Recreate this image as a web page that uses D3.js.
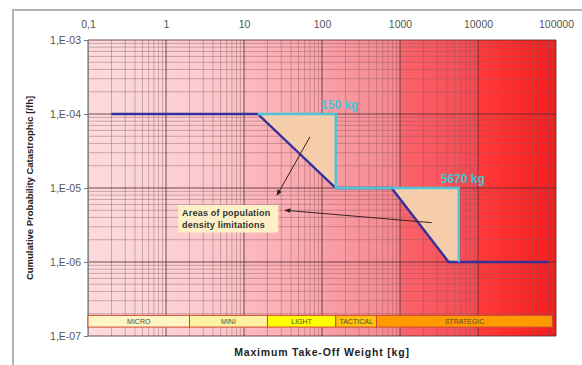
<!DOCTYPE html>
<html>
<head>
<meta charset="utf-8">
<script src="https://cdn.jsdelivr.net/npm/d3@7"></script>
<style>
  body { margin: 0; background: #fff; }
  svg { font-family: "Liberation Sans", Arial, sans-serif; }
</style>
</head>
<body>
<div id="chart"></div>
<script>
// datos
const xTicks = [0.1, 1, 10, 100, 1000, 10000, 100000]
const xTickLabels = ["0,1", "1", "10", "100", "1000", "10000", "100000"]
const yTicks = [1e-3, 1e-4, 1e-5, 1e-6, 1e-7]
const yTickLabels = ["1,E-03", "1,E-04", "1,E-05", "1,E-06", "1,E-07"]

// linea azul (limite)
const azulX = [0.2, 15, 150, 780, 4200, 80000]
const azulY = [1e-4, 1e-4, 1e-5, 1e-5, 1e-6, 1e-6]
// linea cian (escalones)
const cianX = [15, 150, 150, 5670, 5670]
const cianY = [1e-4, 1e-4, 1e-5, 1e-5, 1e-6]
// areas de limitacion
const area1X = [15, 150, 150]
const area1Y = [1e-4, 1e-4, 1e-5]
const area2X = [780, 5670, 5670, 4200]
const area2Y = [1e-5, 1e-5, 1e-6, 1e-6]

// categorias
const categorias = ["MICRO", "MINI", "LIGHT", "TACTICAL", "STRATEGIC"]
const limitesCat = [0.1, 2, 20, 150, 500, 90000]
const coloresCat = ["#fdf6c4", "#fcf2a2", "#ffff00", "#ffc20e", "#ff9a00"]
const bandaCat = [1.9e-7, 1.32e-7]

// etiquetas
const etiquetasKg = [{ x: 150, y: 1e-4, t: "150 kg" }, { x: 5670, y: 1e-5, t: "5670 kg" }]
const flechas = [
  { x1: 70, y1: 4.9e-5, x2: 26.5, y2: 8.0e-6 },
  { x1: 2550, y1: 3.4e-6, x2: 33.6, y2: 5.0e-6 }
]
const cajaX = [1.43, 27.5]
const cajaY = [5.9e-6, 2.5e-6]
const cajaTexto = ["Areas of population", "density limitations"]

// colores de fondo por decada [inicio, fin]
const fondoDecadas = [
  ["#fddadd", "#fcd2d6"],
  ["#fcd0d4", "#fbc2c7"],
  ["#fbbabf", "#faa4ab"],
  ["#f9a0a7", "#f7848d"],
  ["#f9656d", "#fb4650"],
  ["#ff3b3b", "#ff1818"]
]

const ancho = 582, alto = 365
const margen = { top: 40, right: 26, bottom: 29, left: 88 }

const svg = d3.select("#chart").append("svg")
  .attr("width", ancho)
  .attr("height", alto)

const x = d3.scaleLog().domain([0.1, 100000]).range([margen.left, ancho - margen.right])
const y = d3.scaleLog().domain([1e-7, 1e-3]).range([alto - margen.bottom, margen.top])

// marco gris
svg.append("path")
  .attr("d", `M13,${alto} L13,10 L${ancho},10`)
  .attr("fill", "none")
  .attr("stroke", "#b4b4b4")
  .attr("stroke-width", 2)

// fondo con degradado por decada
const defs = svg.append("defs")
fondoDecadas.forEach((c, i) => {
  const g = defs.append("linearGradient").attr("id", "dec" + i)
  g.append("stop").attr("offset", "0%").attr("stop-color", c[0])
  g.append("stop").attr("offset", "100%").attr("stop-color", c[1])
})
svg.selectAll("rect.fondo")
  .data(fondoDecadas)
  .enter().append("rect")
  .attr("class", "fondo")
  .attr("x", (d, i) => x(xTicks[i]))
  .attr("width", (d, i) => x(xTicks[i + 1]) - x(xTicks[i]))
  .attr("y", y(1e-3))
  .attr("height", y(1e-7) - y(1e-3))
  .attr("fill", (d, i) => "url(#dec" + i + ")")

// rejilla menor
const menoresX = []
for (let i = 0; i < 6; i++) for (let k = 2; k <= 9; k++) menoresX.push(xTicks[i] * k)
const menoresY = []
for (let i = 1; i < 5; i++) for (let k = 2; k <= 9; k++) menoresY.push(yTicks[i] * k)

const rejilla = svg.append("g")
rejilla.selectAll("line.mx").data(menoresX).enter().append("line")
  .attr("x1", d => x(d)).attr("x2", d => x(d))
  .attr("y1", y(1e-3)).attr("y2", y(1e-7))
  .attr("stroke", "#8a5a5e").attr("stroke-opacity", 0.42).attr("stroke-width", 1)
rejilla.selectAll("line.my").data(menoresY).enter().append("line")
  .attr("y1", d => y(d)).attr("y2", d => y(d))
  .attr("x1", x(0.1)).attr("x2", x(100000))
  .attr("stroke", "#8a5a5e").attr("stroke-opacity", 0.42).attr("stroke-width", 1)
rejilla.selectAll("line.Mx").data(xTicks).enter().append("line")
  .attr("x1", d => x(d)).attr("x2", d => x(d))
  .attr("y1", y(1e-3)).attr("y2", y(1e-7))
  .attr("stroke", "#5a3034").attr("stroke-opacity", 0.85).attr("stroke-width", 1)
rejilla.selectAll("line.My").data(yTicks).enter().append("line")
  .attr("y1", d => y(d)).attr("y2", d => y(d))
  .attr("x1", x(0.1)).attr("x2", x(100000))
  .attr("stroke", "#5a3034").attr("stroke-opacity", 0.85).attr("stroke-width", 1)

// ejes
const ejeX = svg.append("g")
  .attr("transform", `translate(0,${y(1e-3)})`)
  .call(d3.axisTop(x).tickValues(xTicks).tickFormat((d, i) => xTickLabels[i]).tickSize(0).tickPadding(12))
ejeX.select(".domain").remove()
ejeX.selectAll("text").attr("font-size", 10.5).attr("fill", "#555").attr("font-family", "Liberation Sans, Arial")

const ejeY = svg.append("g")
  .attr("transform", `translate(${x(0.1)},0)`)
  .call(d3.axisLeft(y).tickValues(yTicks).tickFormat((d, i) => yTickLabels[i]).tickSize(4).tickPadding(3))
ejeY.select(".domain").attr("stroke", "#888")
ejeY.selectAll("line").attr("stroke", "#777")
ejeY.selectAll("text").attr("font-size", 10.5).attr("fill", "#555").attr("font-family", "Liberation Sans, Arial")

// areas
const linea = d3.line().x(d => x(d[0])).y(d => y(d[1]))
const areas = [d3.zip(area1X, area1Y), d3.zip(area2X, area2Y)]
svg.selectAll("path.area").data(areas).enter().append("path")
  .attr("class", "area")
  .attr("d", d => linea(d) + "Z")
  .attr("fill", "#f6cdab")

// lineas
svg.append("path")
  .attr("d", linea(d3.zip(azulX, azulY)))
  .attr("fill", "none")
  .attr("stroke", "#36309c")
  .attr("stroke-width", 2.4)

svg.append("path")
  .attr("d", linea(d3.zip(cianX, cianY)))
  .attr("fill", "none")
  .attr("stroke", "#4cc6d4")
  .attr("stroke-width", 2.4)

// etiquetas kg
svg.selectAll("text.kg").data(etiquetasKg).enter().append("text")
  .attr("x", d => x(d.x) + 4)
  .attr("y", d => y(d.y) - 5)
  .attr("text-anchor", "middle")
  .attr("font-size", 12)
  .attr("font-weight", "bold")
  .attr("fill", "#46c4d2")
  .text(d => d.t)

// flechas
defs.append("marker")
  .attr("id", "punta")
  .attr("viewBox", "0 0 10 10")
  .attr("refX", 9).attr("refY", 5)
  .attr("markerWidth", 6).attr("markerHeight", 6)
  .attr("orient", "auto")
  .append("path").attr("d", "M0,1 L10,5 L0,9 Z").attr("fill", "#2a1a1a")

svg.selectAll("line.flecha").data(flechas).enter().append("line")
  .attr("x1", d => x(d.x1)).attr("y1", d => y(d.y1))
  .attr("x2", d => x(d.x2)).attr("y2", d => y(d.y2))
  .attr("stroke", "#3a2222")
  .attr("stroke-width", 1)
  .attr("marker-end", "url(#punta)")

// caja de texto
svg.append("rect")
  .attr("x", x(cajaX[0])).attr("y", y(cajaY[0]))
  .attr("width", x(cajaX[1]) - x(cajaX[0]))
  .attr("height", y(cajaY[1]) - y(cajaY[0]))
  .attr("fill", "#fdf0c6")
svg.selectAll("text.caja").data(cajaTexto).enter().append("text")
  .attr("x", x(cajaX[0]) + 4)
  .attr("y", (d, i) => y(cajaY[0]) + 11 + i * 12)
  .attr("font-size", 9)
  .attr("font-weight", "bold")
  .attr("letter-spacing", 0.2)
  .attr("fill", "#333")
  .text(d => d)

// barra de categorias
const gCat = svg.append("g")
gCat.selectAll("rect").data(categorias).enter().append("rect")
  .attr("x", (d, i) => x(limitesCat[i]))
  .attr("width", (d, i) => x(limitesCat[i + 1]) - x(limitesCat[i]))
  .attr("y", y(bandaCat[0]))
  .attr("height", y(bandaCat[1]) - y(bandaCat[0]))
  .attr("fill", (d, i) => coloresCat[i])
  .attr("stroke", "#d04a30")
  .attr("stroke-width", 1)
gCat.selectAll("text").data(categorias).enter().append("text")
  .attr("x", (d, i) => (x(limitesCat[i]) + x(limitesCat[i + 1])) / 2)
  .attr("y", (y(bandaCat[0]) + y(bandaCat[1])) / 2 + 2.5)
  .attr("text-anchor", "middle")
  .attr("font-size", 7)
  .attr("fill", "#5a4a30")
  .text(d => d)

// titulos
svg.append("text")
  .attr("x", (x(0.1) + x(100000)) / 2)
  .attr("y", 356)
  .attr("text-anchor", "middle")
  .attr("font-size", 10.5)
  .attr("font-weight", "bold")
  .attr("fill", "#222")
  .attr("letter-spacing", 0.8)
  .text("Maximum Take-Off Weight [kg]")

svg.append("text")
  .attr("transform", `translate(33,${(y(1e-3) + y(1e-7)) / 2}) rotate(-90)`)
  .attr("text-anchor", "middle")
  .attr("font-size", 9.5)
  .attr("font-weight", "bold")
  .attr("fill", "#222")
  .text("Cumulative Probability Catastrophic [/fh]")
</script>
</body>
</html>
